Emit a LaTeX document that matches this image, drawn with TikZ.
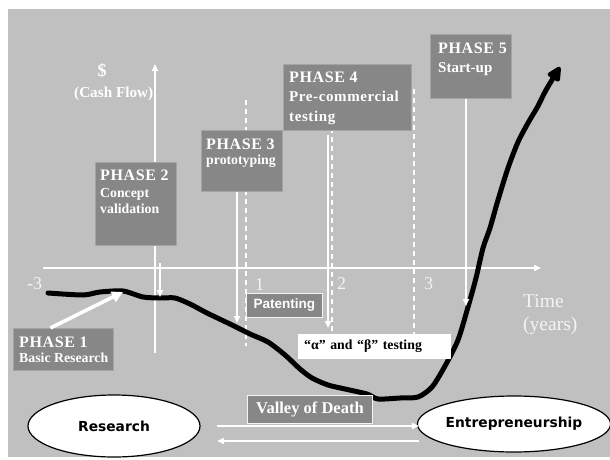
\documentclass[tikz,border=0pt]{standalone}
\usepackage{fontspec}
\setmainfont{Liberation Serif}
\newfontfamily\labelsans{Liberation Sans}
\newfontfamily\roundsans{DejaVu Sans}
\newfontfamily\widesans[LetterSpace=4]{Liberation Serif}
\usetikzlibrary{arrows.meta,shapes.geometric}

\definecolor{canvas}{HTML}{C0C0C0}
\definecolor{phasefill}{HTML}{878787}
\definecolor{phaseedge}{HTML}{A4A4A4}
\definecolor{softwhite}{HTML}{F4F4F4}

\newcommand{\phasehead}[1]{{\widesans\bfseries\fontsize{16}{17}\selectfont #1}}

\tikzset{
  phasebox/.style={draw=phaseedge, line width=0.8pt, fill=phasefill, anchor=north west,
    inner sep=0pt},
  phasetext/.style={text=white, anchor=north west, inner sep=0pt, align=left,
    font=\bfseries\fontsize{13.8}{17}\selectfont},
  tagbox/.style={draw=softwhite, line width=0.8pt, fill=phasefill, text=white, anchor=north west,
    inner sep=0pt},
  whitearrow/.style={draw=white, line width=1.6pt, -{Triangle[length=7pt,width=6pt]}},
  axisline/.style={draw=white, line width=1.6pt},
  guide/.style={draw=white, line width=1.1pt, dash pattern=on 5pt off 4pt},
  axisnum/.style={text=softwhite, font=\fontsize{18}{18}\selectfont, inner sep=0pt, anchor=base west},
  realm/.style={ellipse, draw=black, line width=1.2pt, fill=white, inner sep=0pt,
    font=\roundsans\bfseries\fontsize{13.8}{14}\selectfont},
}

\begin{document}
\begin{tikzpicture}[x=1pt, y=-1pt]
\useasboundingbox (0,0) rectangle (610,460);
\fill[canvas] (8,9) rectangle (610,457);

% dashed year guides
\draw[guide] (246,100) -- (246,346);
\draw[guide] (332,128) -- (332,348);
\draw[guide] (414,89) -- (414,340);

% axes
\coordinate (ytop) at (155,64);
\coordinate (ybot) at (155,353);
\draw[axisline, -{Triangle[length=7pt,width=6pt]}] (ybot) -- (ytop);
\coordinate (xleft) at (43,268);
\coordinate (xright) at (541,268);
\draw[axisline, -{Triangle[length=7pt,width=6pt]}] (xleft) -- (xright);

\node[text=white, font=\bfseries\fontsize{18}{18}\selectfont, inner sep=0pt, anchor=base] (dollar) at (102,77) {\$};
\node[text=white, font=\bfseries\fontsize{15.2}{15}\selectfont, inner sep=0pt, anchor=base west] (cashflow) at (74,97) {(Cash Flow)};

\node[axisnum] (nm3) at (27,289) {-3};
\node[axisnum] (n1) at (255,290) {1};
\node[axisnum] (n2) at (337,289) {2};
\node[axisnum] (n3) at (424,289) {3};
\node[text=softwhite, font=\fontsize{19.5}{23}\selectfont, inner sep=0pt, anchor=north west, align=left]
  (timelabel) at (523,294) {Time\\(years)};

% cash flow curve
\draw[line width=5pt, line join=round, line cap=round,
      -{Triangle[length=17pt,width=15pt,round]}]
  plot[smooth, tension=0.45] coordinates {
    (48,293) (83,295) (100,292) (123,291) (143,297) (160,298) (175,298)
    (190,304) (207,313) (230,324) (250,334) (268,342) (285,355) (300,369)
    (312,378) (328,385) (345,389) (367,394) (378,399) (400,398) (418,397)
    (432,387) (445,366) (458,340) (468,307) (476,278) (483,248) (490,228)
    (498,200) (508,168) (518,142) (528,123) (538,106) (546,90) (560,67)};

% phase boxes
\node[phasebox, minimum width=100pt, minimum height=42pt] (p1) at (13,328) {};
\node[phasetext] (p1t) at (19,336.5) {\phasehead{PHASE 1}\\[-2pt]Basic Research};

\node[phasebox, minimum width=81pt, minimum height=83pt] (p2) at (95,162) {};
\node[phasetext] (p2t) at (100,169.5) {\phasehead{PHASE 2}\\Concept\\[-1pt]validation};

\node[phasebox, minimum width=81pt, minimum height=61pt] (p3) at (201,130) {};
\node[phasetext] (p3t) at (206,138.5) {\phasehead{PHASE 3}\\[-2pt]prototyping};

\node[phasebox, minimum width=128pt, minimum height=66pt] (p4) at (283,64) {};
\node[phasetext, font=\widesans\bfseries\fontsize{15}{19.5}\selectfont] (p4t) at (289,71.5)
  {\phasehead{PHASE 4}\\Pre-commercial\\testing};

\node[phasebox, minimum width=81pt, minimum height=64pt] (p5) at (430,34) {};
\node[phasetext, font=\bfseries\fontsize{15}{19}\selectfont] (p5t) at (438,42.5)
  {\phasehead{PHASE 5}\\Start-up};

% milestone tags
\node[tagbox, minimum width=76pt, minimum height=24pt, font=\labelsans\bfseries\fontsize{13.5}{14}\selectfont]
  (patent) at (246,293) {Patenting};
\node[draw=white, fill=white, anchor=north west, inner sep=0pt, minimum height=24pt,
      text width=152pt, align=left, font=\bfseries\fontsize{13.8}{14}\selectfont]
  (alphabeta) at (298,334) {\hspace*{6pt}“α” and “β” testing};
\node[tagbox, minimum width=125pt, minimum height=28pt, font=\bfseries\fontsize{16.5}{17}\selectfont]
  (valley) at (247,395) {Valley of Death};

% phase pointers
\coordinate (tip1) at (123,292);
\draw[draw=white, line width=3.6pt, -{Triangle[length=11pt,width=11pt]}]
  ([xshift=-13pt]p1.north) -- (tip1);
\coordinate (tip2) at (160,297);
\draw[whitearrow] ([yshift=-17pt]p2.south -| tip2) -- (tip2);
\coordinate (tip3) at (237,323);
\draw[whitearrow] (p3.south -| tip3) -- (tip3);
\coordinate (tip4) at (328,328);
\draw[whitearrow] ([yshift=-4pt]p4.south -| tip4) -- (tip4);
\coordinate (tip5) at (466,306);
\draw[whitearrow] (p5.south -| tip5) -- (tip5);

% research and entrepreneurship
\node[realm, minimum width=172pt, minimum height=62pt] (research) at (114,426) {Research};
\node[realm, minimum width=168pt, minimum height=56pt] (entre) at (514,424) {Entrepreneurship};

\coordinate (fwdA) at (217,426);
\coordinate (fwdB) at (419,426);
\draw[whitearrow] (fwdA) -- (fwdB);
\coordinate (backA) at (419,441);
\coordinate (backB) at (217,441);
\draw[whitearrow] (backA) -- (backB);
\end{tikzpicture}
\end{document}
